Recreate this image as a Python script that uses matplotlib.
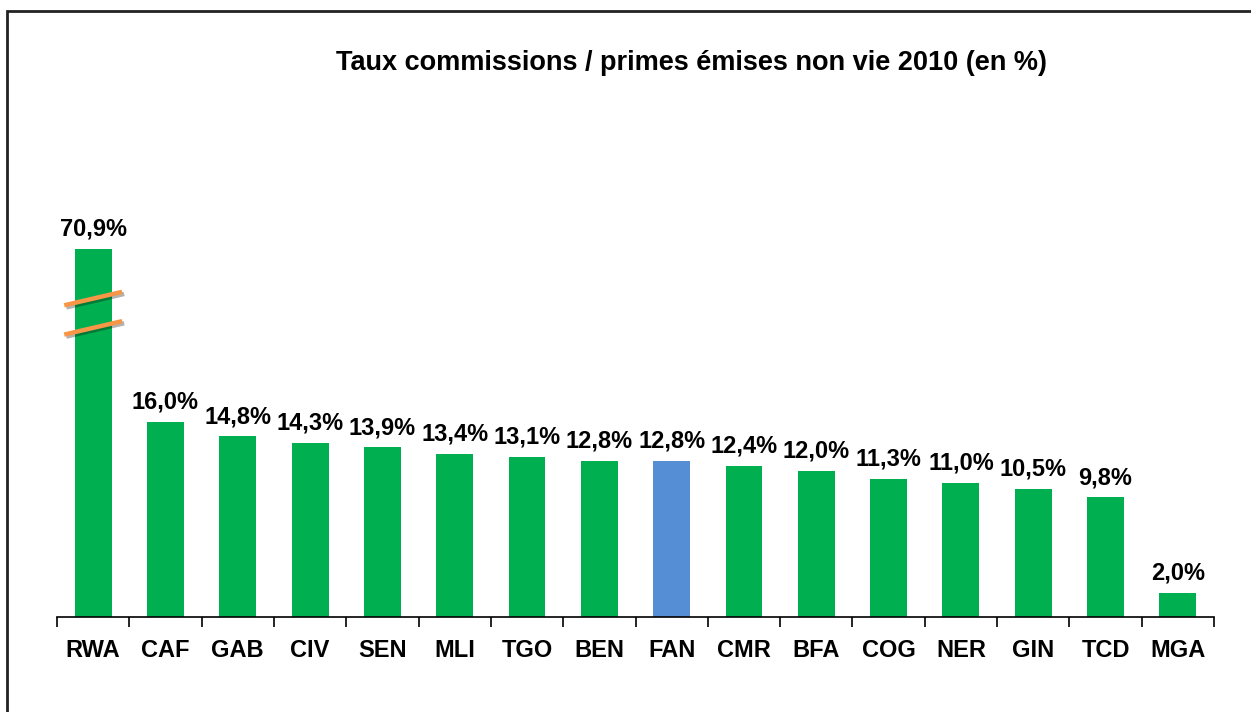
import numpy as np
import matplotlib.pyplot as plt
from matplotlib.patches import Rectangle
import matplotlib.patheffects as pe

# Taux commissions / primes émises non vie 2010, par pays
pays = ['RWA', 'CAF', 'GAB', 'CIV', 'SEN', 'MLI', 'TGO', 'BEN',
        'FAN', 'CMR', 'BFA', 'COG', 'NER', 'GIN', 'TCD', 'MGA']
taux = [70.9, 16.0, 14.8, 14.3, 13.9, 13.4, 13.1, 12.8,
        12.8, 12.4, 12.0, 11.3, 11.0, 10.5, 9.8, 2.0]

vert = '#00B050'
bleu = '#558ED5'
orange = '#F79646'

# axe coupé : au-delà de 20 %, l'échelle est comprimée
coupure = 20.0
ratio = 0.2


def forward(v):
    v = np.asarray(v, dtype=float)
    return np.where(v <= coupure, v, coupure + (v - coupure) * ratio)


def inverse(v):
    v = np.asarray(v, dtype=float)
    return np.where(v <= coupure, v, coupure + (v - coupure) / ratio)


plt.rcParams['font.family'] = ['Liberation Sans', 'DejaVu Sans']

fig = plt.figure(figsize=(12.51, 7.12), dpi=100)
fig.patches.append(Rectangle((7 / 1251, -0.1), 1.2, (712 - 11) / 712 + 0.1,
                             transform=fig.transFigure, fill=False,
                             edgecolor='#222222', linewidth=2))

ax = fig.add_axes([57 / 1251, 95 / 712, 1157 / 1251, 427 / 712])
ax.set_yscale('function', functions=(forward, inverse))
x = np.arange(len(pays))
couleurs = [bleu if p == 'FAN' else vert for p in pays]
ax.bar(x, taux, width=0.51, color=couleurs, edgecolor='none', zorder=2)

for xi, v in zip(x, taux):
    ax.annotate(f'{v:.1f}%'.replace('.', ','), (xi, v), xytext=(0, 6),
                textcoords='offset points', ha='center', va='bottom',
                fontsize=17, fontweight='bold')

# traits de coupure sur la barre RWA
i = int(np.argmax(taux))
for yc in (inverse(23.7), inverse(26.1)):
    y0 = forward(yc)
    ax.plot([x[i] - 0.4, x[i] + 0.4], inverse([y0 - 0.55, y0 + 0.55]),
            color=orange, linewidth=3.2, solid_capstyle='butt', zorder=3,
            path_effects=[pe.SimpleLineShadow(offset=(1.5, -1.5), alpha=0.3),
                          pe.Normal()])

ax.set_xlim(-0.5, len(pays) - 0.5)
ax.set_ylim(0, inverse(35))
ax.set_yticks([])
for s in ('left', 'right', 'top'):
    ax.spines[s].set_visible(False)
ax.spines['bottom'].set_linewidth(1.2)
ax.set_xticks(x)
ax.set_xticklabels(pays, fontsize=17, fontweight='bold')
ax.tick_params(axis='x', which='major', length=0, pad=16)
ax.set_xticks(np.arange(len(pays) + 1) - 0.5, minor=True)
ax.tick_params(axis='x', which='minor', length=7, width=1.2, direction='out')

fig.text(0.553, 0.912, 'Taux commissions / primes émises non vie 2010 (en %)',
         ha='center', va='center', fontsize=19.5, fontweight='bold')

fig.savefig('out.png', dpi=100)
